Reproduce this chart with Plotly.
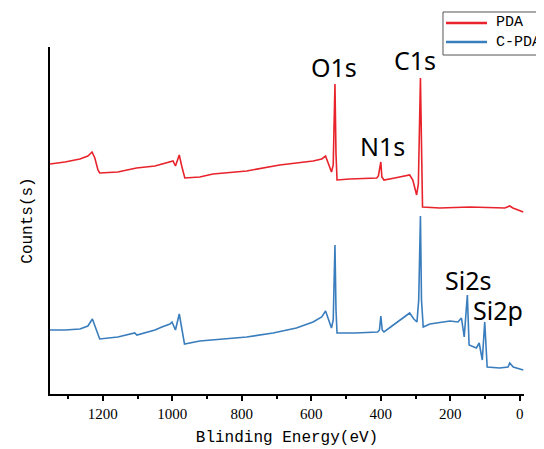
import plotly.graph_objects as go

# Binding energy (eV) and intensity (arb. counts)
pda_energy = [1352, 1309, 1266, 1243, 1231, 1223, 1214, 1209, 1157, 1103, 1050, 1007, 998, 991,
              980, 973, 964, 921, 883, 786, 691, 595, 570, 559, 552, 542, 537, 532, 529, 526,
              489, 412, 407, 400, 397, 391, 360, 317, 308, 297, 292, 286, 283, 280, 230, 144,
              43, 29, 20, 0, -10]
pda_counts = [230, 232, 235, 238, 242, 236, 224, 221, 222, 226, 228, 232, 233, 228,
              239, 228, 216, 217, 220, 223, 229, 233, 235, 238, 231, 222, 229, 310, 240, 214,
              215, 216, 218, 232, 217, 214, 216, 219, 214, 199, 210, 316, 250, 187, 186, 187,
              186, 188, 186, 183, 182]

cpda_energy = [1352, 1309, 1266, 1243, 1230, 1223, 1214, 1209, 1157, 1108, 1102, 1050, 1030, 1007,
               1001, 991, 980, 973, 965, 921, 883, 786, 710, 643, 595, 570, 559, 552, 542, 537,
               532, 529, 526, 475, 409, 404, 400, 396, 391, 360, 331, 317, 305, 296, 291, 286,
               283, 278, 259, 201, 178, 168, 160, 151, 146, 125, 117, 108, 101, 94, 58, 34, 29,
               19, 0, -10]
cpda_counts = [64, 64, 65, 68, 75, 68, 58, 55, 57, 61, 59, 64, 67, 70,
               72, 64, 80, 64, 50, 53, 54, 57, 61, 66, 72, 77, 83, 76, 66, 74,
               149, 84, 61, 61, 62, 64, 78, 64, 62, 70, 78, 81, 75, 72, 94, 178,
               94, 67, 70, 73, 72, 76, 57, 99, 49, 46, 51, 34, 72, 27, 26, 27, 31,
               27, 25, 24]

series_names = ["PDA", "C-PDA"]
series_colors = ["#e8232b", "#3a7dbd"]
peak_labels = ["O1s", "C1s", "N1s", "Si2s", "Si2p"]
peak_label_energy = [535, 302, 394, 150, 63]
peak_label_counts = [327, 334, 248, 114, 84]

x_tick_values = [1200, 1000, 800, 600, 400, 200, 0]
x_minor_values = [1300, 1100, 900, 700, 500, 300, 100]
x_title = "Blinding Energy(eV)"
y_title = "Counts(s)"

fig = go.Figure()
fig.add_trace(go.Scatter(x=pda_energy, y=pda_counts, mode="lines", name=series_names[0],
                         line=dict(color=series_colors[0], width=1.6)))
fig.add_trace(go.Scatter(x=cpda_energy, y=cpda_counts, mode="lines", name=series_names[1],
                         line=dict(color=series_colors[1], width=1.6)))

for txt, ex, cy in zip(peak_labels, peak_label_energy, peak_label_counts):
    fig.add_annotation(x=ex, y=cy, xref="x", yref="y", text=txt, showarrow=False,
                       font=dict(family="Noto Sans", size=25, color="black"),
                       xanchor="center", yanchor="middle")

mono = "Liberation Mono"

# boxed key in the top-right corner (running off the page edge, as in the reference)
fig.add_shape(type="rect", xref="paper", yref="paper", x0=0.8291, x1=1.08, y0=0.9769, y1=1.1009,
              line=dict(color="#555555", width=1), fillcolor="white", layer="above")
key_rows_y = [1.0692, 1.0144]
for name, color, ky in zip(series_names, series_colors, key_rows_y):
    fig.add_shape(type="line", xref="paper", yref="paper", x0=0.8354, x1=0.9219, y0=ky, y1=ky,
                  line=dict(color=color, width=2.5), layer="above")
    fig.add_annotation(x=0.9367, y=ky, xref="paper", yref="paper", text=name, showarrow=False,
                       xanchor="left", yanchor="middle",
                       font=dict(family=mono, size=15, color="black"))

# page body adds an 8px offset; figure is sized so the plot lands where the reference has it
fig.update_layout(
    width=536, height=441,
    margin=dict(l=42, r=20, t=39, b=55, autoexpand=False),
    paper_bgcolor="white", plot_bgcolor="white",
    showlegend=False,
    xaxis=dict(range=[1352, -12], tickvals=x_tick_values, showline=True, linecolor="black",
               linewidth=1.5, ticks="outside", ticklen=5, tickwidth=1.5, tickcolor="black",
               minor=dict(tickvals=x_minor_values, ticks="outside",
                          ticklen=3, tickwidth=1.5, tickcolor="black"),
               showgrid=False, zeroline=False,
               tickfont=dict(family="Liberation Serif", size=15, color="black"),
               title=dict(text=x_title, font=dict(family=mono, size=16, color="black"),
                          standoff=10)),
    yaxis=dict(range=[0, 347], showline=True, linecolor="black", linewidth=1.5,
               showticklabels=False, ticks="", showgrid=False, zeroline=False,
               title=dict(text=y_title, font=dict(family=mono, size=16, color="black"),
                          standoff=12)),
)

fig.write_html("out.html")
